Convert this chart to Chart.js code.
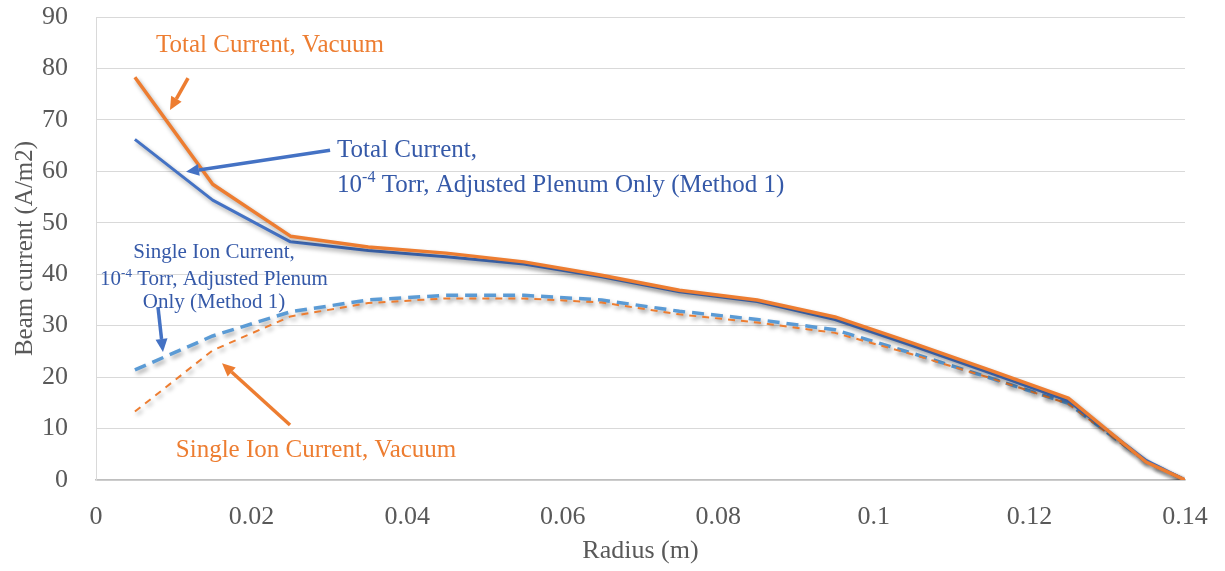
<!DOCTYPE html>
<html>
<head>
<meta charset="utf-8">
<script src="https://cdn.jsdelivr.net/npm/chart.js@4"></script>
<style>
  body { margin: 0; background: #ffffff; }
  #wrap { width: 1225px; height: 571px; position: relative; }
</style>
</head>
<body>
<div id="wrap"><canvas id="beamChart"></canvas></div>
<script>
// radius sample points (m)
const radius = [0.005, 0.015, 0.025, 0.035, 0.045, 0.055, 0.065, 0.075, 0.085, 0.095, 0.105, 0.115, 0.125, 0.135, 0.14];

// beam current (A/m2)
const totalVacuum   = [78.3, 57.5, 47.4, 45.3, 44.1, 42.4, 39.8, 36.9, 35.0, 31.7, 26.6, 21.3, 15.9, 3.5, 0];
const totalTorr     = [66.2, 54.4, 46.3, 44.6, 43.4, 42.0, 39.5, 36.6, 34.7, 31.2, 26.1, 20.8, 15.4, 3.8, 0];
const singleTorr    = [21.4, 28.0, 32.7, 35.0, 35.9, 35.9, 35.0, 32.8, 31.2, 29.2, 24.6, 19.8, 14.9, 3.6, 0];
const singleVacuum  = [13.3, 25.2, 31.8, 34.4, 35.3, 35.3, 34.5, 32.2, 30.6, 28.6, 24.4, 19.8, 14.8, 3.5, 0];

const xTickLabels = ['0', '0.02', '0.04', '0.06', '0.08', '0.1', '0.12', '0.14'];
const yTickLabels = ['0', '10', '20', '30', '40', '50', '60', '70', '80', '90'];

const ORANGE = '#ED7D31';
const BLUE = '#4472C4';
const LIGHTBLUE = '#5B9BD5';
const BLUE_TEXT = '#3559A8';
const FONT = '"Liberation Serif", "Times New Roman", serif';

function pts(ys) {
    return radius.map((r, i) => ({ x: r, y: ys[i] }));
}

// text callouts and arrows, placed in data units
const callouts = [
    { color: ORANGE, size: 25, align: 'center', x: 0.02237,
      lines: [[{ t: 'Total Current, Vacuum' }]], baselines: [83.2],
      arrow: [0.01183, 78.1, 0.00951, 71.9] },
    { color: BLUE_TEXT, size: 25, align: 'left', x: 0.03099,
      lines: [[{ t: 'Total Current,' }],
              [{ t: '10' }, { t: '-4', sup: true }, { t: ' Torr, Adjusted Plenum Only (Method 1)' }]],
      baselines: [62.8, 56.0], arrowColor: BLUE,
      arrow: [0.03009, 64.1, 0.01157, 59.9] },
    { color: BLUE_TEXT, size: 21, align: 'center', x: 0.01517,
      lines: [[{ t: 'Single Ion Current,' }],
              [{ t: '10' }, { t: '-4', sup: true }, { t: ' Torr, Adjusted Plenum' }],
              [{ t: 'Only (Method 1)' }]],
      baselines: [43.2, 37.9, 33.4], arrowColor: BLUE,
      arrow: [0.00797, 33.6, 0.00861, 24.9] },
    { color: ORANGE, size: 25, align: 'center', x: 0.02829,
      lines: [[{ t: 'Single Ion Current, Vacuum' }]], baselines: [4.5],
      arrow: [0.02494, 10.7, 0.01620, 22.7] }
];

const shadowPlugin = {
    id: 'lineShadow',
    beforeDatasetDraw(chart) {
        const ctx = chart.ctx;
        ctx.save();
        ctx.shadowColor = 'rgba(0,0,0,0.35)';
        ctx.shadowBlur = 4;
        ctx.shadowOffsetX = 2;
        ctx.shadowOffsetY = 3;
    },
    afterDatasetDraw(chart) {
        chart.ctx.restore();
    }
};

function drawArrow(ctx, x1, y1, x2, y2, color) {
    const ang = Math.atan2(y2 - y1, x2 - x1);
    const head = 13, half = 6;
    const bx = x2 - head * Math.cos(ang), by = y2 - head * Math.sin(ang);
    ctx.strokeStyle = color;
    ctx.fillStyle = color;
    ctx.lineWidth = 3.5;
    ctx.beginPath();
    ctx.moveTo(x1, y1);
    ctx.lineTo(bx, by);
    ctx.stroke();
    ctx.beginPath();
    ctx.moveTo(x2, y2);
    ctx.lineTo(bx + half * Math.sin(ang), by - half * Math.cos(ang));
    ctx.lineTo(bx - half * Math.sin(ang), by + half * Math.cos(ang));
    ctx.closePath();
    ctx.fill();
}

const calloutPlugin = {
    id: 'callouts',
    afterDatasetsDraw(chart) {
        const ctx = chart.ctx;
        const xs = chart.scales.x, ys = chart.scales.y;
        callouts.forEach(c => {
            ctx.save();
            const a = c.arrow;
            drawArrow(ctx, xs.getPixelForValue(a[0]), ys.getPixelForValue(a[1]),
                      xs.getPixelForValue(a[2]), ys.getPixelForValue(a[3]), c.arrowColor || c.color);
            ctx.fillStyle = c.color;
            ctx.textBaseline = 'alphabetic';
            ctx.textAlign = 'left';
            const base = c.size + 'px ' + FONT;
            const small = Math.round(c.size * 0.62) + 'px ' + FONT;
            c.lines.forEach((segs, i) => {
                let w = 0;
                segs.forEach(s => { ctx.font = s.sup ? small : base; w += ctx.measureText(s.t).width; });
                let px = xs.getPixelForValue(c.x);
                if (c.align === 'center') px -= w / 2;
                const py = ys.getPixelForValue(c.baselines[i]);
                segs.forEach(s => {
                    ctx.font = s.sup ? small : base;
                    ctx.fillText(s.t, px, s.sup ? py - c.size * 0.38 : py);
                    px += ctx.measureText(s.t).width;
                });
            });
            ctx.restore();
        });
    }
};

new Chart(document.getElementById('beamChart'), {
    type: 'line',
    data: {
        datasets: [
            { label: 'Total Current, Vacuum', data: pts(totalVacuum), borderColor: ORANGE,
              borderWidth: 3.5, order: 0 },
            { label: 'Total Current, 10-4 Torr', data: pts(totalTorr), borderColor: BLUE,
              borderWidth: 3, order: 1 },
            { label: 'Single Ion Current, Vacuum', data: pts(singleVacuum), borderColor: ORANGE,
              borderWidth: 2, borderDash: [7, 6], order: 2 },
            { label: 'Single Ion Current, 10-4 Torr', data: pts(singleTorr), borderColor: LIGHTBLUE,
              borderWidth: 3.5, borderDash: [12, 7], order: 3 }
        ]
    },
    options: {
        responsive: true,
        maintainAspectRatio: false,
        animation: false,
        elements: {
            point: { radius: 0, hoverRadius: 0 },
            line: { tension: 0, fill: false, borderJoinStyle: 'round', borderCapStyle: 'butt' }
        },
        layout: { padding: { top: 17, right: 40, left: 0, bottom: 0 } },
        plugins: {
            legend: { display: false },
            tooltip: { enabled: false }
        },
        scales: {
            x: {
                type: 'linear',
                min: 0,
                max: 0.14,
                afterFit(scale) { scale.height = 91; scale.paddingRight = 0; scale.paddingLeft = 0; },
                ticks: {
                    stepSize: 0.02,
                    color: '#595959',
                    font: { family: FONT, size: 26 },
                    padding: 22,
                    maxRotation: 0,
                    callback: (v, i) => xTickLabels[i]
                },
                grid: { display: false, drawTicks: false },
                border: { display: true, color: '#bfbfbf', width: 1.5 },
                title: {
                    display: true,
                    text: 'Radius (m)',
                    color: '#595959',
                    font: { family: FONT, size: 26 },
                    padding: { top: 0, bottom: 4 }
                }
            },
            y: {
                min: 0,
                max: 90,
                afterFit(scale) { scale.width = 96; scale.paddingTop = 0; scale.paddingBottom = 0; },
                ticks: {
                    stepSize: 10,
                    color: '#595959',
                    font: { family: FONT, size: 26 },
                    padding: 28,
                    callback: (v, i) => yTickLabels[i]
                },
                grid: { color: '#d9d9d9', lineWidth: 1, drawTicks: false },
                border: { display: true, color: '#d9d9d9', width: 1 },
                title: {
                    display: true,
                    text: 'Beam current (A/m2)',
                    color: '#595959',
                    font: { family: FONT, size: 25 },
                    padding: { top: 10, bottom: 0 }
                }
            }
        }
    },
    plugins: [shadowPlugin, calloutPlugin]
});
</script>
</body>
</html>
